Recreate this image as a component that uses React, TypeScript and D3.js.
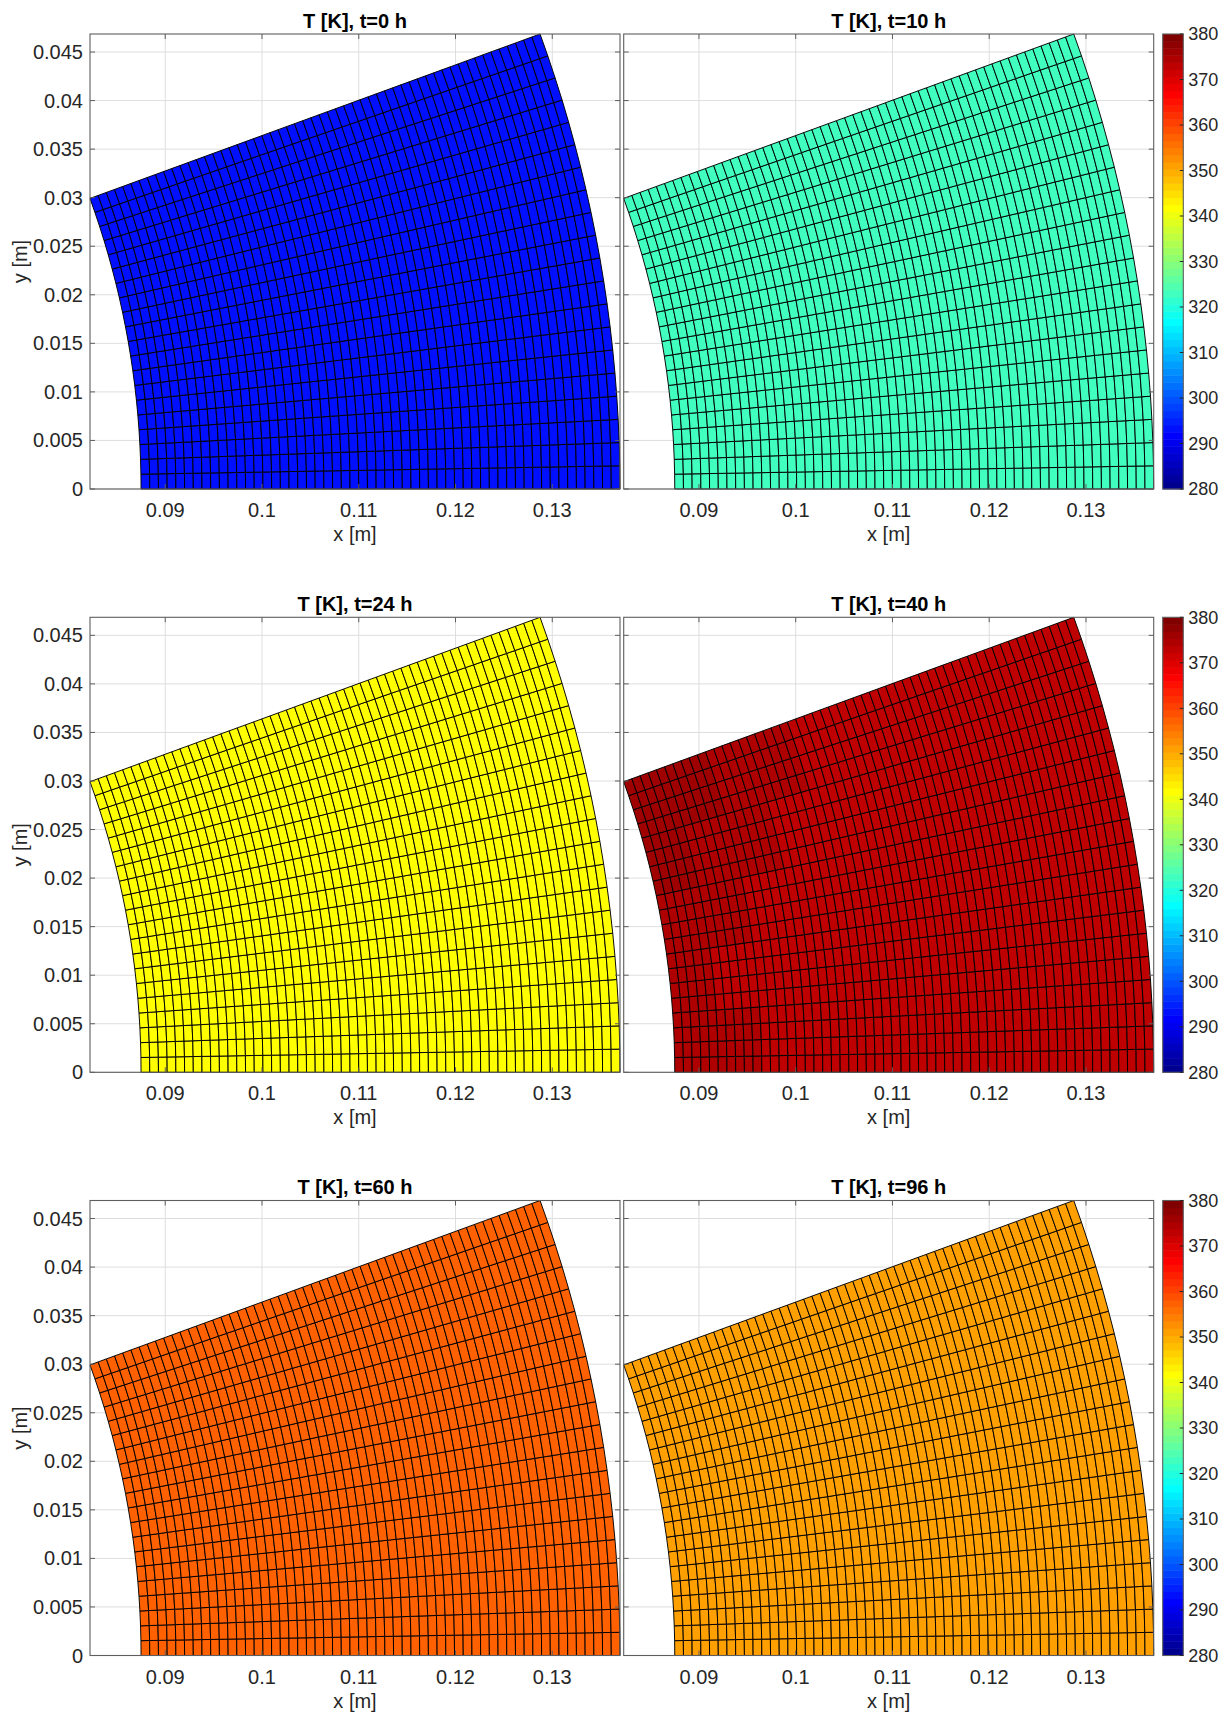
import React from "react";
import * as d3 from "d3";

// ---------- data ----------
const radiiNodes = [
  0.0875, 0.0884, 0.0893, 0.0902, 0.0911, 0.092, 0.0929, 0.0938, 0.0947, 0.0956,
  0.0965, 0.0974, 0.0983, 0.0992, 0.1001, 0.101, 0.1019, 0.1028, 0.1037, 0.1046,
  0.1055, 0.1064, 0.1073, 0.1082, 0.1091, 0.11, 0.1109, 0.1118, 0.1127, 0.1136,
  0.1145, 0.1154, 0.1163, 0.1172, 0.1181, 0.119, 0.1199, 0.1208, 0.1217, 0.1226,
  0.1235, 0.1244, 0.1253, 0.1262, 0.1271, 0.128, 0.1289, 0.1298, 0.1307, 0.1316,
  0.1325, 0.1334, 0.1343, 0.1352, 0.1361, 0.137,
];
const angleNodesDeg = [0, 1, 2, 3, 4, 5, 6, 7, 8, 9, 10, 11, 12, 13, 14, 15, 16, 17, 18, 19, 20];

const panelTitles = [
  "T [K], t=0 h",
  "T [K], t=10 h",
  "T [K], t=24 h",
  "T [K], t=40 h",
  "T [K], t=60 h",
  "T [K], t=96 h",
];
// uniform temperature of each panel (null = uses block field below)
const panelTemps: (number | null)[] = [293.15, 323.0, 341.5, null, 357.3, 351.0];

// t=40 h field, blocks of 4 angular rows (bottom->top) x 5 radial columns (inner->outer)
const t40Blocks = [
  [374.2, 374.2, 373.3, 373.0, 373.0, 373.0, 373.0, 373.0, 373.0, 373.0, 373.0],
  [374.2, 373.3, 373.0, 373.0, 373.0, 373.0, 373.0, 373.0, 373.0, 373.0, 373.0],
  [374.4, 374.2, 373.3, 373.0, 373.0, 373.0, 373.0, 373.0, 373.0, 373.0, 373.0],
  [375.6, 374.4, 374.2, 373.3, 373.0, 373.0, 373.0, 373.0, 373.0, 373.0, 373.0],
  [376.2, 375.6, 374.4, 374.0, 373.3, 373.0, 373.0, 373.0, 373.0, 373.0, 373.0],
];

const xTicks = [0.09, 0.1, 0.11, 0.12, 0.13];
const yTicks = [0, 0.005, 0.01, 0.015, 0.02, 0.025, 0.03, 0.035, 0.04, 0.045];
const cbTicks = [280, 290, 300, 310, 320, 330, 340, 350, 360, 370, 380];
const colorLimits = [280, 380];

// ---------- colormap (MATLAB jet, 64 levels) ----------
function jet64(): string[] {
  const m = 64;
  const n = 16;
  const u: number[] = [];
  for (let i = 1; i <= n; i++) u.push(i / n);
  for (let i = 1; i <= n - 1; i++) u.push(1);
  for (let i = n; i >= 1; i--) u.push(i / n);
  const R = new Array(m).fill(0);
  const G = new Array(m).fill(0);
  const B = new Array(m).fill(0);
  for (let k = 0; k < u.length; k++) {
    const g = 8 + (k + 1);
    const r = g + n;
    const b = g - n;
    if (g >= 1 && g <= m) G[g - 1] = u[k];
    if (r >= 1 && r <= m) R[r - 1] = u[k];
    if (b >= 1 && b <= m) B[b - 1] = u[k];
  }
  return R.map((_, i) =>
    d3.rgb(Math.round(R[i] * 255), Math.round(G[i] * 255), Math.round(B[i] * 255)).formatHex()
  );
}
const JET = jet64();
const colorScale = d3.scaleQuantize<string>().domain(colorLimits).range(JET);

// ---------- layout ----------
const W = 1229;
const H = 1715;
const rowTops = [34, 617.3, 1200.5];
const colLefts = [90, 623.7];
const PW = 530;
const PH = 455;
const CB_X = 1162.7;
const CB_W = 20.6;
const FONT = "'Liberation Sans', Arial, Helvetica, sans-serif";
const AX_COLOR = "#5e5e5e";
const TXT = "#262626";

const r1 = radiiNodes[0];
const r2 = radiiNodes[radiiNodes.length - 1];
const thMax = (angleNodesDeg[angleNodesDeg.length - 1] * Math.PI) / 180;
const xDomain = [r1 * Math.cos(thMax), r2];
const yDomain = [0, r2 * Math.sin(thMax)];

function fmt(v: number) {
  return String(+v.toFixed(4));
}

function Panel({ idx }: { idx: number }) {
  const row = Math.floor(idx / 2);
  const col = idx % 2;
  const x0 = colLefts[col];
  const y0 = rowTops[row];
  const xs = d3.scaleLinear().domain(xDomain).range([x0, x0 + PW]);
  const ys = d3.scaleLinear().domain(yDomain).range([y0 + PH, y0]);

  const cells: { d: string; fill: string }[] = [];
  for (let j = 0; j < angleNodesDeg.length - 1; j++) {
    const ta = (angleNodesDeg[j] * Math.PI) / 180;
    const tb = (angleNodesDeg[j + 1] * Math.PI) / 180;
    for (let i = 0; i < radiiNodes.length - 1; i++) {
      const ra = radiiNodes[i];
      const rb = radiiNodes[i + 1];
      const pts: [number, number][] = [
        [ra * Math.cos(ta), ra * Math.sin(ta)],
        [rb * Math.cos(ta), rb * Math.sin(ta)],
        [rb * Math.cos(tb), rb * Math.sin(tb)],
        [ra * Math.cos(tb), ra * Math.sin(tb)],
      ];
      const d =
        "M" + pts.map((p) => `${xs(p[0]).toFixed(2)},${ys(p[1]).toFixed(2)}`).join("L") + "Z";
      const T = panelTemps[idx] ?? t40Blocks[Math.floor(j / 4)][Math.floor(i / 5)];
      cells.push({ d, fill: colorScale(T) });
    }
  }

  const tickLen = 5;
  return (
    <g>
      <text
        x={x0 + PW / 2}
        y={y0 - 6.5}
        textAnchor="middle"
        fontFamily={FONT}
        fontSize={20}
        fontWeight="bold"
        fill="#000"
      >
        {panelTitles[idx]}
      </text>
      {/* grid */}
      {xTicks.map((t) => (
        <line key={"gx" + t} x1={xs(t)} x2={xs(t)} y1={y0} y2={y0 + PH} stroke="#dedede" strokeWidth={1} />
      ))}
      {yTicks.map((t) => (
        <line key={"gy" + t} x1={x0} x2={x0 + PW} y1={ys(t)} y2={ys(t)} stroke="#dedede" strokeWidth={1} />
      ))}
      {/* mesh */}
      <g stroke="#000" strokeWidth={0.95} strokeLinejoin="round">
        {cells.map((c, k) => (
          <path key={k} d={c.d} fill={c.fill} />
        ))}
      </g>
      {/* box & ticks */}
      <rect x={x0} y={y0} width={PW} height={PH} fill="none" stroke={AX_COLOR} strokeWidth={1.1} />
      {xTicks.map((t) => (
        <g key={"tx" + t}>
          <line x1={xs(t)} x2={xs(t)} y1={y0 + PH} y2={y0 + PH - tickLen} stroke={AX_COLOR} />
          <line x1={xs(t)} x2={xs(t)} y1={y0} y2={y0 + tickLen} stroke={AX_COLOR} />
          <text
            x={xs(t)}
            y={y0 + PH + 28}
            textAnchor="middle"
            fontFamily={FONT}
            fontSize={20}
            fill={TXT}
          >
            {fmt(t)}
          </text>
        </g>
      ))}
      {yTicks.map((t) => (
        <g key={"ty" + t}>
          <line x1={x0} x2={x0 + tickLen} y1={ys(t)} y2={ys(t)} stroke={AX_COLOR} />
          <line x1={x0 + PW} x2={x0 + PW - tickLen} y1={ys(t)} y2={ys(t)} stroke={AX_COLOR} />
          {col === 0 && (
            <text
              x={x0 - 7}
              y={ys(t) + 7}
              textAnchor="end"
              fontFamily={FONT}
              fontSize={20}
              fill={TXT}
            >
              {fmt(t)}
            </text>
          )}
        </g>
      ))}
      <text
        x={x0 + PW / 2}
        y={y0 + PH + 52}
        textAnchor="middle"
        fontFamily={FONT}
        fontSize={20}
        fill={TXT}
      >
        x [m]
      </text>
      {col === 0 && (
        <text
          transform={`translate(${x0 - 63},${y0 + PH / 2}) rotate(-90)`}
          textAnchor="middle"
          fontFamily={FONT}
          fontSize={20}
          fill={TXT}
        >
          y [m]
        </text>
      )}
    </g>
  );
}

function Colorbar({ row }: { row: number }) {
  const y0 = rowTops[row];
  const cs = d3.scaleLinear().domain(colorLimits).range([y0 + PH, y0]);
  const bandH = PH / JET.length;
  return (
    <g>
      {JET.map((c, k) => (
        <rect
          key={k}
          x={CB_X}
          y={y0 + PH - (k + 1) * bandH}
          width={CB_W}
          height={bandH + 0.5}
          fill={c}
        />
      ))}
      <rect x={CB_X} y={y0} width={CB_W} height={PH} fill="none" stroke={AX_COLOR} strokeWidth={1.1} />
      {cbTicks.map((t) => (
        <g key={t}>
          <line x1={CB_X + CB_W} x2={CB_X + CB_W - 3.5} y1={cs(t)} y2={cs(t)} stroke={TXT} />
          <text x={CB_X + CB_W + 5} y={cs(t) + 6.3} fontFamily={FONT} fontSize={18} fill={TXT}>
            {t}
          </text>
        </g>
      ))}
    </g>
  );
}

export default function App() {
  return (
    <svg
      width={W}
      height={H}
      viewBox={`0 0 ${W} ${H}`}
      style={{ position: "absolute", left: 0, top: 0, background: "#fff" }}
    >
      <rect x={0} y={0} width={W} height={H} fill="#fff" />
      {panelTitles.map((_, i) => (
        <Panel key={i} idx={i} />
      ))}
      {rowTops.map((_, r) => (
        <Colorbar key={r} row={r} />
      ))}
    </svg>
  );
}
